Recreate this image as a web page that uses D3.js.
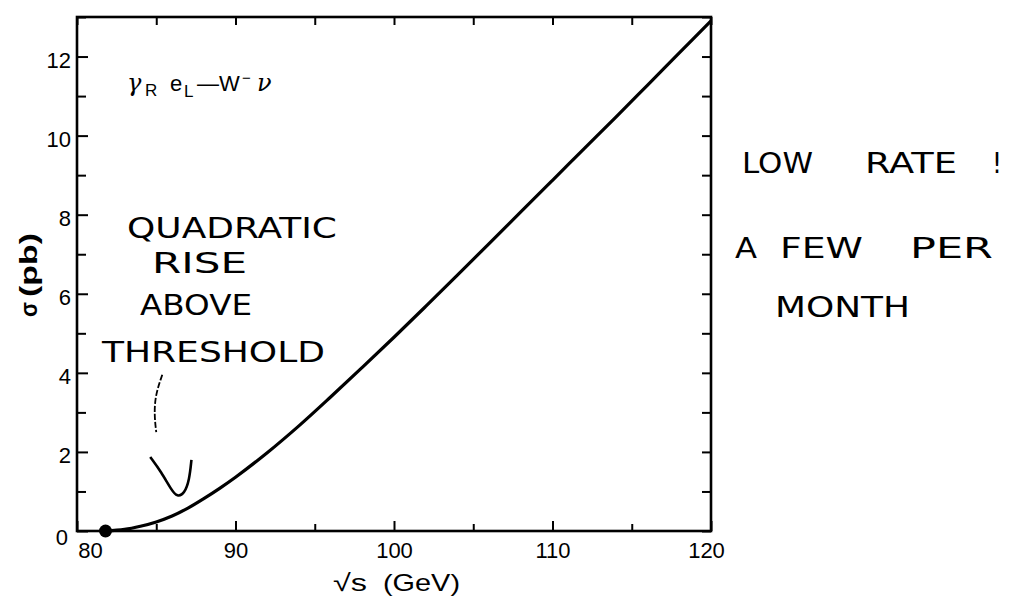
<!DOCTYPE html>
<html>
<head>
  <meta charset="UTF-8">
  <style>
    body { margin: 0; background: #fff; }
    svg text { font-family: "Liberation Sans", Arial, sans-serif; fill: #000; }
    .hand { font-family: "DejaVu Sans", sans-serif; font-size: 28px; }
    .greek { font-family: "DejaVu Serif", serif; font-style: italic; }
  </style>
</head>
<body>
<div id="chart"></div>

<script src="https://d3js.org/d3.v7.min.js"></script>
<script>

let width = 1013, height = 596;
const margin = {top: 17, right: 302, bottom: 65, left: 77};

// cross section vs sqrt(s)
const sqrtS = [81.8, 83, 84, 85, 86, 87, 88, 89, 90, 92, 94, 96, 98, 100,
               102, 104, 106, 108, 110, 112, 114, 116, 118, 120];
const sigma = [0, 0.04, 0.12, 0.23, 0.38, 0.58, 0.82, 1.08, 1.36, 1.98, 2.66, 3.39, 4.14, 4.9,
               5.68, 6.47, 7.27, 8.07, 8.87, 9.67, 10.47, 11.28, 12.09, 12.9];
const threshold = [81.8, 0];

const xTicks = [80, 85, 90, 95, 100, 105, 110, 115, 120];
const xLabels = [80, 90, 100, 110, 120];
const yTicks = d3.range(0, 14);
const yLabels = [0, 2, 4, 6, 8, 10, 12];

// hand-drawn arrow strokes (data units)
const arrowTop = [[85.38, 3.95], [84.95, 3.45], [84.87, 2.95], [85.0, 2.5]];
const arrowV = [[84.62, 1.87], [85.32, 1.49], [85.95, 1.04], [86.33, 0.86],
                [86.77, 0.94], [87.09, 1.29], [87.22, 1.8]];

const svg = d3.select("#chart")
  .append("svg")
    .attr("width", width)
    .attr("height", height);

const x = d3.scaleLinear()
  .domain([80, 120])
  .range([margin.left, width - margin.right]);
const y = d3.scaleLinear()
  .domain([0, 13])
  .range([height - margin.bottom, margin.top]);

const x0 = margin.left, x1 = width - margin.right;
const y0 = height - margin.bottom, y1 = margin.top;

// bottom axis, ticks pointing in
const xAxis = svg.append("g")
  .attr("transform", `translate(0,${y0})`)
  .call(d3.axisBottom(x)
    .tickValues(xTicks)
    .tickSizeInner(-10).tickSizeOuter(0).tickPadding(11)
    .tickFormat(d => xLabels.includes(d) ? d : ""));
xAxis.selectAll(".tick line")
  .attr("y2", d => d % 10 === 0 ? -10 : -7)
  .attr("stroke-width", 2);
xAxis.selectAll("text")
  .style("font-size", "22px")
  .attr("dx", d => d === 80 ? 13 : (d === 120 ? -5 : 0));

// left axis
const yAxis = svg.append("g")
  .attr("transform", `translate(${x0},0)`)
  .call(d3.axisLeft(y)
    .tickValues(yTicks)
    .tickSizeInner(-11).tickSizeOuter(0).tickPadding(6)
    .tickFormat(d => yLabels.includes(d) ? d : ""));
yAxis.selectAll(".tick line")
  .attr("x2", d => d % 2 === 0 ? 11 : 9)
  .attr("stroke-width", 2);
yAxis.selectAll("text")
  .style("font-size", "22px")
  .attr("dy", d => d === 0 ? "0.6em" : "0.5em")
  .attr("dx", d => d === 0 ? -3 : 0);

// top and right axes, no labels
const topAxis = svg.append("g")
  .attr("transform", `translate(0,${y1})`)
  .call(d3.axisTop(x).tickValues(xTicks).tickSizeInner(-8).tickSizeOuter(0).tickFormat(""));
topAxis.selectAll(".tick line").attr("stroke-width", 2);

const rightAxis = svg.append("g")
  .attr("transform", `translate(${x1},0)`)
  .call(d3.axisRight(y).tickValues(yTicks).tickSizeInner(-9).tickSizeOuter(0).tickFormat(""));
rightAxis.selectAll(".tick line").attr("stroke-width", 2);

svg.selectAll(".domain").remove();

// frame
svg.append("rect")
  .attr("x", x0).attr("y", y1)
  .attr("width", x1 - x0).attr("height", y0 - y1)
  .attr("fill", "none")
  .attr("stroke", "#000")
  .attr("stroke-width", 2.6);

// curve
const pts = sqrtS.map((d, i) => [d, sigma[i]]);
svg.append("path")
  .datum(pts)
  .attr("fill", "none")
  .attr("stroke", "#000")
  .attr("stroke-width", 3.2)
  .attr("d", d3.line().x(d => x(d[0])).y(d => y(d[1])).curve(d3.curveCatmullRom));

svg.append("circle")
  .attr("cx", x(threshold[0]))
  .attr("cy", y(threshold[1]))
  .attr("r", 6.5)
  .attr("fill", "#000");

// axis titles
svg.append("text")
  .attr("x", 333).attr("y", 591)
  .attr("textLength", 34).attr("lengthAdjust", "spacingAndGlyphs")
  .style("font-size", "24px")
  .text("√s");
svg.append("text")
  .attr("x", 383).attr("y", 591)
  .attr("textLength", 77).attr("lengthAdjust", "spacingAndGlyphs")
  .style("font-size", "24px")
  .text("(GeV)");

svg.append("text")
  .attr("transform", "translate(37,317) rotate(-90)")
  .attr("textLength", 15).attr("lengthAdjust", "spacingAndGlyphs")
  .style("font-size", "23px").style("font-weight", "bold")
  .text("σ");
svg.append("text")
  .attr("transform", "translate(37,297) rotate(-90)")
  .attr("textLength", 64).attr("lengthAdjust", "spacingAndGlyphs")
  .style("font-size", "23px").style("font-weight", "bold")
  .text("(pb)");

// process label
const proc = svg.append("text")
  .attr("y", 91)
  .style("font-size", "22px");
proc.append("tspan").attr("x", 127).attr("class", "greek").style("font-size", "24px").text("γ");
proc.append("tspan").attr("x", 145).attr("dy", 5).style("font-size", "17px").text("R");
proc.append("tspan").attr("x", 170).attr("dy", -5).text("e");
proc.append("tspan").attr("x", 184).attr("dy", 6).style("font-size", "17px").text("L");
proc.append("tspan").attr("x", 197).attr("dy", -6).text("—W");
proc.append("tspan").attr("x", 242).attr("dy", -8).style("font-size", "15px").text("−");
proc.append("tspan").attr("x", 257).attr("dy", 8).attr("class", "greek").style("font-size", "24px").text("ν");

// handwritten notes
const notes = [
  {t: "QUADRATIC", x: 127, y: 238, w: 210},
  {t: "RISE", x: 152, y: 273, w: 95},
  {t: "ABOVE", x: 140, y: 315, w: 112},
  {t: "THRESHOLD", x: 102, y: 362, w: 223},
  {t: "LOW", x: 742, y: 173, w: 71},
  {t: "RATE", x: 865, y: 173, w: 92},
  {t: "!", x: 992, y: 173, w: 10},
  {t: "A", x: 735, y: 258, w: 22},
  {t: "FEW", x: 780, y: 258, w: 83},
  {t: "PER", x: 910, y: 258, w: 83},
  {t: "MONTH", x: 775, y: 317, w: 135}
];
svg.selectAll("text.hand")
  .data(notes)
  .join("text")
    .attr("class", "hand")
    .attr("x", d => d.x)
    .attr("y", d => d.y)
    .attr("textLength", d => d.w)
    .attr("lengthAdjust", "spacingAndGlyphs")
    .text(d => d.t);

// hand-drawn arrow
const hline = d3.line().x(d => x(d[0])).y(d => y(d[1])).curve(d3.curveBasis);
svg.append("path")
  .attr("d", hline(arrowTop))
  .attr("fill", "none").attr("stroke", "#000")
  .attr("stroke-width", 1.8).attr("stroke-dasharray", "6,2");
svg.append("path")
  .attr("d", hline(arrowV))
  .attr("fill", "none").attr("stroke", "#000")
  .attr("stroke-width", 2.6);

</script>
</body>
</html>
